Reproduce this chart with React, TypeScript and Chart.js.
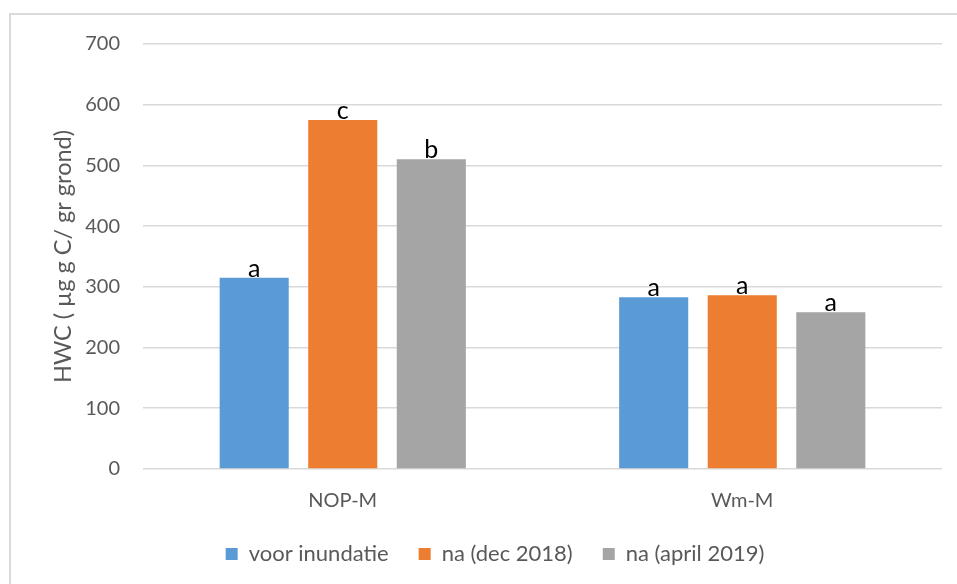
import React, { useEffect, useRef } from "react";
import { Chart, registerables } from "chart.js";

Chart.register(...registerables);

const categories = ["NOP-M", "Wm-M"];
const seriesNames = ["voor inundatie", "na (dec 2018)", "na (april 2019)"];
const voorInundatie = [315, 283];
const naDec2018 = [575, 286];
const naApril2019 = [510, 258];
const letters = [
  ["a", "a"],
  ["c", "a"],
  ["b", "a"],
];
const colors = ["#5B9BD5", "#ED7D31", "#A5A5A5"];
const FONT = "Lato, 'Open Sans', sans-serif";

const letterPlugin = {
  id: "letters",
  afterLayout(chart: any) {
    if (chart.legend) {
      chart.legend.left += 24;
      chart.legend.right += 24;
    }
  },
  afterDatasetsDraw(chart: any) {
    const ctx = chart.ctx;
    ctx.save();
    ctx.font = `25px ${FONT}`;
    ctx.fillStyle = "#000000";
    ctx.textAlign = "center";
    ctx.textBaseline = "alphabetic";
    chart.data.datasets.forEach((ds: any, i: number) => {
      const meta = chart.getDatasetMeta(i);
      meta.data.forEach((bar: any, j: number) => {
        ctx.fillText(letters[i][j], bar.x, bar.y - 1);
      });
    });
    ctx.restore();
  },
};

export default function App() {
  const ref = useRef<HTMLCanvasElement>(null);
  useEffect(() => {
    if (!ref.current) return;
    const chart = new Chart(ref.current, {
      type: "bar",
      data: {
        labels: categories,
        datasets: [voorInundatie, naDec2018, naApril2019].map((d, i) => ({
          label: seriesNames[i],
          data: d,
          backgroundColor: colors[i],
          borderWidth: 0,
          categoryPercentage: 0.665,
          barPercentage: 0.78,
        })),
      },
      options: {
        animation: false,
        responsive: false,
        maintainAspectRatio: false,
        layout: { padding: { top: 44, right: 15, bottom: 9, left: 0 } },
        plugins: {
          legend: {
            position: "bottom",
            labels: {
              font: { family: FONT, size: 22 },
              color: "#595959",
              boxWidth: 12,
              boxHeight: 12,
              padding: 30,
            },
          },
          tooltip: { enabled: false },
        },
        scales: {
          x: {
            grid: { display: false, drawTicks: false },
            border: { display: false },
            ticks: { font: { family: FONT, size: 20 }, color: "#595959", padding: 20 },
            afterFit: (s: any) => {
              s.height = 44;
            },
          },
          y: {
            min: 0,
            max: 700,
            ticks: {
              stepSize: 100,
              font: { family: FONT, size: 20 },
              color: "#595959",
              padding: 23,
            },
            grid: { color: "#d9d9d9", lineWidth: 1.6, drawTicks: false },
            border: { display: false },
            title: {
              display: true,
              text: "HWC ( µg g C/ gr grond)",
              font: { family: FONT, size: 23.5 },
              color: "#595959",
              padding: { top: 49, bottom: 0 },
            },
            afterFit: (s: any) => {
              s.width = 143;
            },
          },
        },
      },
      plugins: [letterPlugin],
    });
    return () => chart.destroy();
  }, []);
  return (
    <div style={{ position: "fixed", left: 0, top: 0, width: 957, height: 584, background: "#fff", overflow: "hidden" }}>
      <div
        style={{
          position: "absolute",
          left: 9,
          top: 13,
          width: 1000,
          height: 1000,
          border: "2px solid #d9d9d9",
        }}
      />
      <canvas ref={ref} width={957} height={584} style={{ position: "absolute", left: 0, top: 0 }} />
    </div>
  );
}
